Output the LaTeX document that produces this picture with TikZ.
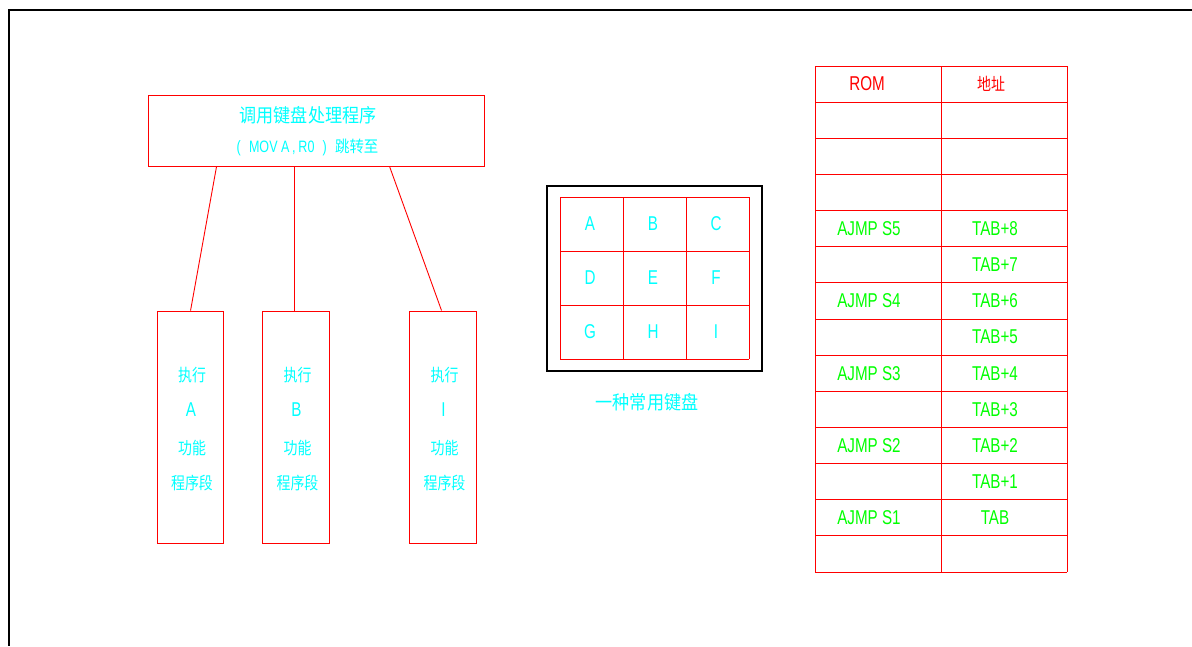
\documentclass[tikz,border=0pt]{standalone}
\usepackage{fontspec}
\setmainfont{Liberation Sans}[FakeStretch=0.76]
\newfontfamily\cjk{Noto Sans CJK SC}[FakeStretch=0.9]
\newfontfamily\cjkn{Noto Sans CJK SC}[FakeStretch=0.82]
\usetikzlibrary{calc}
\definecolor{cadred}{RGB}{255,0,0}
\definecolor{cadcyan}{RGB}{0,255,255}
\definecolor{cadgreen}{RGB}{0,255,0}
\tikzset{
  redl/.style={draw=cadred, line width=0.9pt},
  blk/.style={draw=black, line width=1.3pt},
  boxn/.style={redl, rectangle, inner sep=0pt},
  lat/.style={inner sep=0pt, font=\fontsize{20}{20}\selectfont},
  latc/.style={lat, text=cadcyan},
  latg/.style={lat, text=cadgreen},
  hanb/.style={inner sep=0pt, text=cadcyan, font=\cjkn\fontsize{17}{17}\selectfont},
  hant/.style={inner sep=0pt, text=cadcyan, font=\cjk\fontsize{19}{19}\selectfont},
}
\begin{document}
\begin{tikzpicture}[x=1pt,y=-1pt]
\useasboundingbox (0,0) rectangle (1192,646);
% frame
\draw[line width=2pt] (8,10) -- (1192,10);
\draw[line width=2pt] (9,10) -- (9,646);

% top box
\node[boxn, minimum width=336pt, minimum height=71pt] (top) at (316,130.5) {};
\node[hant] (title) at (308,115) {调用键盘处理程序};
\node[inner sep=0pt, text=cadcyan, font=\fontsize{16.5}{16.5}\selectfont] (sub) at (307.5,147)
  {(\enspace MOV A\,,\,R0\enspace)\enspace{\cjk\fontsize{16}{16}\selectfont 跳转至}};

% bottom boxes
\node[boxn, minimum width=66pt, minimum height=232pt] (b1) at (190,427) {};
\node[boxn, minimum width=67pt, minimum height=232pt] (b2) at (295.5,427) {};
\node[boxn, minimum width=67pt, minimum height=232pt] (b3) at (442.5,427) {};

\foreach \b/\x/\l in {b1/192/A, b2/297.5/B, b3/444.5/I}{
  \node[hanb] (\b t1) at (\x,375) {执行};
  \node[latc] (\b t2) at (\x-1,410) {\l};
  \node[hanb] (\b t3) at (\x,448) {功能};
  \node[hanb] (\b t4) at (\x,483) {程序段};
}

% connectors
\draw[redl] ($(top.south west)+(69,0)$) -- ($(b1.north west)+(34,0)$);
\draw[redl] ($(top.south west)+(147,0)$) -- ($(b2.north west)+(33,0)$);
\draw[redl] ($(top.south west)+(242,0)$) -- ($(b3.north west)+(33,0)$);

% keypad
\node[blk, rectangle, minimum width=215pt, minimum height=185pt, inner sep=0pt] (kp) at (654.5,278.5) {};
\foreach \c in {560,623,686,749} \draw[redl] (\c,197) -- (\c,359);
\foreach \r in {197,251,305,359} \draw[redl] (560,\r) -- (749,\r);
\foreach \l/\x/\y in {A/590/224, B/653/224, C/716/224, D/590/278, E/653/278, F/716/278, G/590/332, H/653/332, I/716/332}{
  \node[latc] (k\l) at (\x,\y) {\l};
}
\node[hant] (cap) at (647,402) {一种常用键盘};

% ROM table
\foreach \i in {0,...,14} \draw[redl] (815,{66+\i*36.143}) -- (1067,{66+\i*36.143});
\foreach \c in {815,941,1067} \draw[redl] (\c,66) -- (\c,572);
\node[lat, text=cadred] (hrom) at (867,84) {ROM};
\node[inner sep=0pt, text=cadred, font=\cjkn\fontsize{17}{17}\selectfont] (hadr) at (991,84) {地址};
\foreach \i/\a/\t in {4/AJMP S5/TAB+8, 5//TAB+7, 6/AJMP S4/TAB+6, 7//TAB+5, 8/AJMP S3/TAB+4, 9//TAB+3, 10/AJMP S2/TAB+2, 11//TAB+1, 12/AJMP S1/TAB}{
  \node[latg] (ra\i) at (869,{66+(\i+0.5)*36.143}) {\a};
  \node[latg] (rt\i) at (995,{66+(\i+0.5)*36.143}) {\t};
}
\end{tikzpicture}
\end{document}
